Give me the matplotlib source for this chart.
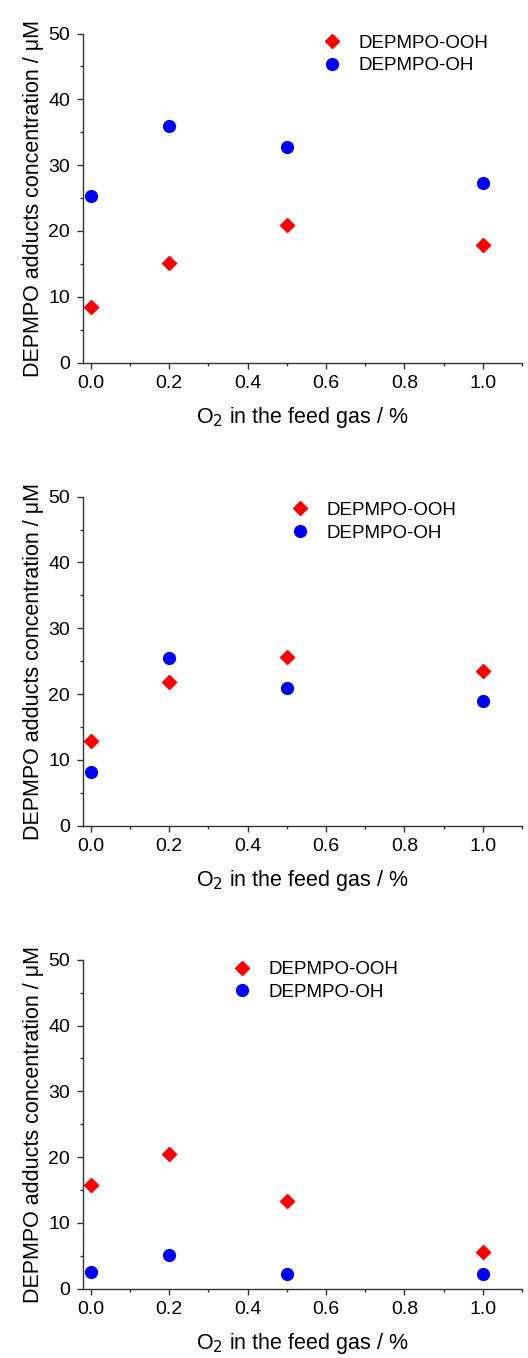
import matplotlib
matplotlib.use('Agg')
import matplotlib.pyplot as plt
from matplotlib.ticker import MultipleLocator

plt.rcParams['font.family'] = ['Liberation Sans', 'DejaVu Sans']

o2 = [0.0, 0.2, 0.5, 1.0]

# DEPMPO-OOH and DEPMPO-OH adducts for each panel (uM)
ooh_a = [8.5, 15.2, 20.9, 17.8]
oh_a = [25.3, 35.9, 32.8, 27.3]
ooh_b = [12.9, 21.8, 25.6, 23.5]
oh_b = [8.2, 25.5, 20.9, 18.9]
ooh_c = [15.7, 20.5, 13.4, 5.6]
oh_c = [2.6, 5.1, 2.2, 2.3]

panels = [(ooh_a, oh_a), (ooh_b, oh_b), (ooh_c, oh_c)]
bottoms = [0.733, 0.392, 0.051]
legend_anchor = [(0.525, 1.02), (0.452, 1.007), (0.32, 1.019)]

fig = plt.figure(figsize=(5.28, 13.58), dpi=100)
spine_col = '#333333'

for (ooh, oh), b, anc in zip(panels, bottoms, legend_anchor):
    ax = fig.add_axes([0.1566, b, 0.832, 0.2423])
    ax.plot(o2, ooh, 'D', color='red', markersize=7, label='DEPMPO-OOH',
            linestyle='none')
    ax.plot(o2, oh, 'o', color='blue', markersize=8.5, label='DEPMPO-OH',
            linestyle='none')
    ax.set_xlim(-0.021, 1.1)
    ax.set_ylim(0, 50)
    ax.xaxis.set_major_locator(MultipleLocator(0.2))
    ax.xaxis.set_minor_locator(MultipleLocator(0.1))
    ax.yaxis.set_major_locator(MultipleLocator(10))
    ax.yaxis.set_minor_locator(MultipleLocator(5))
    ax.set_xticks([0.0, 0.2, 0.4, 0.6, 0.8, 1.0])
    ax.set_xticklabels(['0.0', '0.2', '0.4', '0.6', '0.8', '1.0'])
    for s in ['top', 'right']:
        ax.spines[s].set_visible(False)
    for s in ['left', 'bottom']:
        ax.spines[s].set_color(spine_col)
        ax.spines[s].set_linewidth(1.0)
    ax.tick_params(which='major', direction='out', length=4, width=1,
                   color=spine_col, labelsize=14, pad=5)
    ax.tick_params(which='minor', direction='out', length=2.5, width=1,
                   color=spine_col)
    ax.set_xlabel('O$_2$ in the feed gas / %', fontsize=15.5, labelpad=9)
    ax.set_ylabel('DEPMPO adducts concentration / \u03bcM', fontsize=15.5,
                  labelpad=3)
    ax.legend(loc='upper left', bbox_to_anchor=anc, frameon=False,
              fontsize=13.5, handletextpad=0.8, labelspacing=0.3,
              handlelength=1.2, borderaxespad=0)

plt.savefig('out.png', dpi=100)
